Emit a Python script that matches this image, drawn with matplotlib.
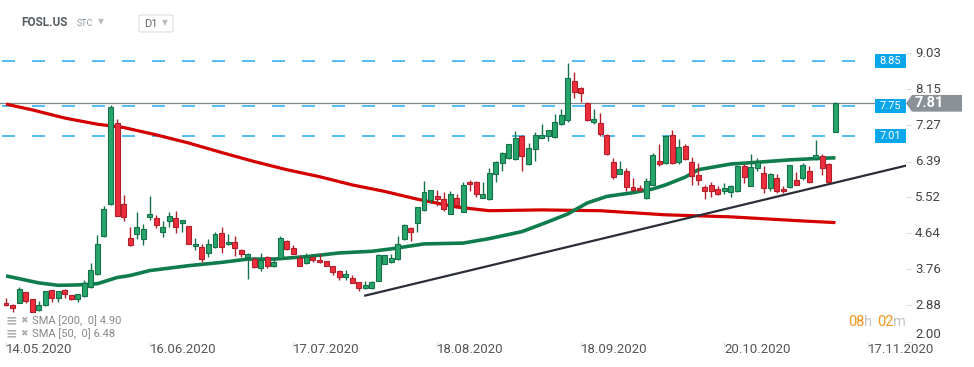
import numpy as np
import matplotlib
matplotlib.use("Agg")
import matplotlib.pyplot as plt
from matplotlib.patches import Rectangle, Polygon, FancyBboxPatch

plt.rcParams["font.family"] = ["Roboto", "DejaVu Sans"]

# daily candles, FOSL.US
OPEN = [2.94, 2.89, 2.94, 3.20, 3.04, 2.76, 2.88, 3.26, 3.07, 3.26,
        3.13, 3.04, 3.12, 3.33, 3.65, 4.58, 5.36, 7.34, 5.35, 4.52,
        4.62, 4.50, 5.03, 5.01, 4.68, 4.95, 5.01, 4.89, 4.81, 4.32,
        4.30, 4.16, 4.30, 4.64, 4.38, 4.42, 4.23, 4.07, 4.02, 3.79,
        4.06, 3.85, 4.03, 4.46, 4.29, 4.03, 3.91, 4.05, 3.99, 3.96,
        3.83, 3.72, 3.58, 3.55, 3.45, 3.31, 3.31, 3.48, 3.89, 3.94,
        4.01, 4.50, 4.77, 4.89, 5.20, 5.46, 5.55, 5.47, 5.11, 5.50,
        5.16, 5.89, 5.90, 5.50, 5.47, 6.08, 6.35, 6.47, 6.45, 7.02,
        6.33, 6.69, 6.97, 7.01, 6.98, 7.30, 7.40, 8.35, 8.18, 7.81,
        7.36, 7.32, 7.04, 6.37, 6.08, 6.16, 5.76, 5.74, 5.51, 5.82,
        6.41, 6.35, 7.04, 6.37, 6.77, 6.39, 6.06, 5.76, 5.81, 5.72,
        5.68, 5.64, 5.66, 6.28, 5.80, 6.23, 6.11, 5.74, 5.98, 5.72,
        5.78, 5.94, 5.98, 6.15, 6.47, 6.53, 6.33, 7.12]
HIGH = [3.06, 2.92, 3.32, 3.21, 3.04, 2.98, 3.24, 3.26, 3.24, 3.27,
        3.14, 3.16, 3.51, 3.91, 4.59, 5.31, 7.78, 7.42, 5.58, 4.80,
        5.15, 4.87, 5.55, 5.09, 4.94, 5.16, 5.19, 4.97, 4.82, 4.52,
        4.38, 4.50, 4.66, 4.79, 4.63, 4.58, 4.26, 4.16, 4.06, 4.16,
        4.08, 4.05, 4.58, 4.48, 4.36, 4.11, 4.16, 4.07, 4.14, 3.97,
        3.84, 3.74, 3.75, 3.63, 3.46, 3.48, 3.48, 4.13, 4.11, 4.13,
        4.58, 4.87, 4.79, 5.29, 5.92, 5.70, 5.70, 5.64, 5.66, 5.59,
        5.88, 5.93, 5.92, 5.88, 6.23, 6.41, 6.61, 6.82, 7.14, 7.04,
        6.84, 7.11, 7.31, 7.16, 7.54, 7.67, 8.80, 8.57, 8.21, 7.83,
        7.67, 7.57, 7.05, 6.47, 6.41, 6.23, 5.98, 5.82, 6.00, 6.59,
        6.82, 7.04, 7.16, 6.93, 6.82, 6.51, 6.36, 5.82, 5.88, 5.80,
        5.86, 5.82, 6.30, 6.33, 6.57, 6.47, 6.29, 6.10, 6.08, 5.80,
        6.31, 6.13, 6.35, 6.27, 6.92, 6.57, 6.35, 7.83]
LOW = [2.86, 2.73, 2.93, 2.94, 2.72, 2.75, 2.87, 2.96, 2.97, 3.07,
       3.01, 2.96, 3.09, 3.31, 3.63, 4.56, 5.33, 5.07, 4.93, 4.33,
       4.50, 4.36, 4.97, 4.77, 4.55, 4.79, 4.64, 4.67, 4.37, 4.24,
       3.95, 4.07, 4.29, 4.17, 4.36, 4.09, 4.07, 3.53, 3.80, 3.71,
       3.79, 3.81, 4.02, 4.24, 4.13, 3.84, 3.89, 3.95, 3.92, 3.84,
       3.61, 3.50, 3.50, 3.42, 3.23, 3.29, 3.29, 3.47, 3.88, 3.91,
       3.99, 4.48, 4.46, 4.66, 5.19, 5.37, 5.31, 5.19, 5.10, 5.32,
       5.15, 5.66, 5.52, 5.49, 5.46, 5.90, 6.17, 6.45, 6.43, 6.17,
       6.31, 6.41, 6.96, 6.88, 6.97, 7.28, 7.36, 7.93, 7.84, 7.38,
       7.31, 7.02, 6.54, 5.97, 6.08, 5.66, 5.68, 5.68, 5.48, 5.81,
       6.27, 6.33, 6.33, 6.33, 6.43, 5.82, 5.82, 5.48, 5.52, 5.58,
       5.60, 5.52, 5.65, 5.86, 5.79, 6.15, 5.62, 5.66, 5.62, 5.62,
       5.75, 5.81, 5.94, 5.86, 6.43, 6.06, 5.89, 7.11]
CLOSE = [2.88, 2.82, 3.28, 3.00, 2.72, 2.89, 3.22, 3.06, 3.22, 3.16,
         3.04, 3.16, 3.43, 3.75, 4.38, 5.23, 7.71, 5.07, 5.03, 4.35,
         4.79, 4.74, 5.11, 4.83, 4.79, 5.07, 4.79, 4.96, 4.38, 4.38,
         4.01, 4.38, 4.62, 4.30, 4.43, 4.28, 4.13, 4.13, 3.81, 3.99,
         3.85, 3.95, 4.52, 4.25, 4.14, 3.85, 4.05, 3.98, 3.93, 3.85,
         3.69, 3.58, 3.65, 3.43, 3.31, 3.39, 3.44, 4.10, 4.10, 4.03,
         4.38, 4.83, 4.68, 5.28, 5.64, 5.69, 5.48, 5.24, 5.59, 5.33,
         5.82, 5.84, 5.59, 5.59, 6.11, 6.37, 6.59, 6.81, 6.97, 6.52,
         6.71, 7.04, 7.04, 7.15, 7.35, 7.52, 8.42, 8.08, 8.06, 7.40,
         7.43, 7.07, 6.58, 6.02, 6.20, 5.78, 5.70, 5.70, 5.92, 6.55,
         6.33, 7.01, 6.35, 6.74, 6.45, 6.04, 5.94, 5.68, 5.66, 5.60,
         5.74, 5.80, 6.28, 6.01, 6.25, 6.39, 5.74, 6.08, 5.66, 5.66,
         6.30, 5.82, 6.30, 5.90, 6.55, 6.23, 5.90, 7.81]

# moving averages, sampled along the drawn curves (bar index, value)
SMA200_X = [0, 4, 9, 14, 18, 23, 28, 33, 38, 43, 48, 53, 58, 63, 69, 74, 82, 91, 101, 111, 122, 127]
SMA200_Y = [7.79, 7.65, 7.45, 7.30, 7.22, 7.04, 6.84, 6.61, 6.39, 6.19, 6.02, 5.82, 5.66, 5.47,
            5.28, 5.19, 5.21, 5.19, 5.09, 5.04, 4.94, 4.90]
SMA50_X = [0, 5, 8, 11, 14, 17, 19, 22, 28, 33, 37, 41, 46, 51, 56, 59, 64, 70, 74, 79, 83, 86,
           89, 92, 96, 99, 101, 104, 106, 111, 114, 120, 125, 127]
SMA50_Y = [3.60, 3.43, 3.37, 3.38, 3.41, 3.56, 3.61, 3.73, 3.85, 3.93, 4.01, 4.01, 4.07, 4.16,
           4.20, 4.26, 4.38, 4.40, 4.51, 4.68, 4.92, 5.11, 5.38, 5.54, 5.63, 5.72, 5.82, 6.01,
           6.19, 6.33, 6.36, 6.43, 6.47, 6.48]

TREND_X = [55, 137.8]
TREND_Y = [3.12, 6.29]

HLINES = [8.85, 7.75, 7.01]
LAST_PRICE = 7.81

Y_TICKS = [9.03, 8.15, 7.27, 6.39, 5.52, 4.64, 3.76, 2.88, 2.00]
X_TICK_POS = [0, 22, 44, 66, 88, 110, 132]
X_TICK_LABELS = ["14.05.2020", "16.06.2020", "17.07.2020", "18.08.2020",
                 "18.09.2020", "20.10.2020", "17.11.2020"]

W, H = 974, 367
fig = plt.figure(figsize=(W / 100, H / 100), dpi=100)
fig.patch.set_facecolor("white")

AX_L, AX_R, AX_T, AX_B = 0, 906, 40, 341.5
ax = fig.add_axes([AX_L / W, 1 - AX_B / H, (AX_R - AX_L) / W, (AX_B - AX_T) / H])
ax.set_xlim(-0.92, 137.8)
ax.set_ylim(2.0, 9.354)
for s in ax.spines.values():
    s.set_visible(False)

ppu = (AX_B - AX_T) / (9.354 - 2.0)   # pixels per price unit


def fx(px):
    return px / W


def fy(py):
    return 1 - py / H


yb = ax.get_yaxis_transform()

# horizontal levels
ax.plot([0, 1], [LAST_PRICE, LAST_PRICE], transform=yb, color="#7f898f", lw=0.9, zorder=1)
for v in HLINES:
    ax.plot([0.002, 870 / 906], [v, v], transform=yb, color="#35b1ec", lw=1.2,
            dashes=(7.8, 10.2), zorder=1)

# moving averages + trend line
ax.plot(SMA200_X, SMA200_Y, color="#d40000", lw=2.3, zorder=2, solid_capstyle="butt")
ax.plot(SMA50_X, SMA50_Y, color="#0f7c4c", lw=2.6, zorder=2, solid_capstyle="butt")
ax.plot(TREND_X, TREND_Y, color="#2a2f37", lw=1.6, zorder=2)

# candles
o = np.array(OPEN)
c = np.array(CLOSE)
hi = np.array(HIGH)
lo = np.array(LOW)
idx = np.arange(len(o))
up = c >= o
fill = np.where(up, "#27a56b", "#ee2e3c")
edge = np.where(up, "#15714a", "#b01f2a")
ax.vlines(idx, lo, hi, colors=edge, lw=1.0, zorder=3)
bottom = np.minimum(o, c)
height = np.maximum(np.abs(c - o), 0.03)
ax.bar(idx, height, bottom=bottom, width=0.76, color=fill, edgecolor=edge, lw=0.8, zorder=4)

# level labels on the right
for v in HLINES:
    h = 14 / ppu
    ax.add_patch(Rectangle((875 / 906, v - h / 2), 31 / 906, h, transform=yb,
                           facecolor="#0aa6ec", edgecolor="none", clip_on=False, zorder=5))
    ax.text(890.5 / 906, v, f"{v:.2f}", transform=yb, ha="center", va="center",
            color="white", fontsize=8, zorder=6)

h = 16.7 / ppu
poly = [(906 / 906, LAST_PRICE), (912 / 906, LAST_PRICE + h / 2), (962 / 906, LAST_PRICE + h / 2),
        (962 / 906, LAST_PRICE - h / 2), (912 / 906, LAST_PRICE - h / 2)]
ax.add_patch(Polygon(poly, closed=True, transform=yb, facecolor="#8b9297", edgecolor="none",
                     clip_on=False, zorder=5))
ax.text(915 / 906, LAST_PRICE, f"{LAST_PRICE:.2f}", transform=yb, ha="left", va="center",
        color="white", fontsize=10.5, fontweight="bold", zorder=6)

# price axis
ax.set_yticks(Y_TICKS)
ax.yaxis.tick_right()
ax.tick_params(axis="y", length=3.5, width=0.8, color="#dddddd", labelright=False)
for v in Y_TICKS:
    if v == LAST_PRICE:
        continue
    va = "bottom" if v == 2.00 else "center"
    ax.text(915 / 906, v, f"{v:.2f}", transform=yb, ha="left", va=va,
            color="#444444", fontsize=9.5)

# date axis
ax.set_xticks(X_TICK_POS)
ax.tick_params(axis="x", length=3.5, width=0.8, color="#dddddd", labelbottom=False)
xb = ax.get_xaxis_transform()
for p, lab in zip(X_TICK_POS, X_TICK_LABELS):
    ax.text(p, -(349.5 - AX_B) / (AX_B - AX_T), lab, transform=xb, ha="left", va="center",
            color="#555555", fontsize=9.5)

# header
fig.text(fx(21), fy(23), "FOSL.US", fontsize=8.5, fontweight="bold", color="#555b61",
         va="center", ha="left")
fig.text(fx(77), fy(24), "STC", fontsize=6.5, color="#8796a3", va="center", ha="left")
fig.text(fx(98), fy(22), "\u25bc", fontsize=5.5, color="#bbbbbb", va="center", ha="left",
         family="DejaVu Sans")
box = FancyBboxPatch((fx(139), fy(32)), fx(34), (32 - 15) / H,
                     boxstyle="round,pad=0,rounding_size=0.004", transform=fig.transFigure,
                     facecolor="white", edgecolor="#dddddd", lw=0.8)
fig.patches.append(box)
fig.text(fx(144), fy(24), "D1", fontsize=8, color="#666666", va="center", ha="left")
fig.text(fx(162), fy(23), "\u25bc", fontsize=5.5, color="#bbbbbb", va="center", ha="left",
         family="DejaVu Sans")

# indicator legend
for ypix, lab in [(320.5, "SMA [200,  0] 4.90"), (333.5, "SMA [50,  0] 6.48")]:
    fig.text(fx(6), fy(ypix), "\u2261", fontsize=10, fontweight="bold", color="#b0b0b0",
             va="center", ha="left", family="DejaVu Sans")
    fig.text(fx(20), fy(ypix), "\u2716", fontsize=6.5, color="#b0b0b0", va="center", ha="left",
             family="DejaVu Sans")
    fig.text(fx(32), fy(ypix), lab, fontsize=8, color="#888888", va="center", ha="left")

# session countdown
for xpix, txt, col in [(848, "08", "#f7941d"), (864, "h", "#c4c4c4"),
                       (877, "02", "#f7941d"), (893, "m", "#c4c4c4")]:
    fig.text(fx(xpix), fy(322.5), txt, fontsize=10.5, color=col, va="center", ha="left")

fig.savefig("out.png", dpi=100, facecolor="white")
